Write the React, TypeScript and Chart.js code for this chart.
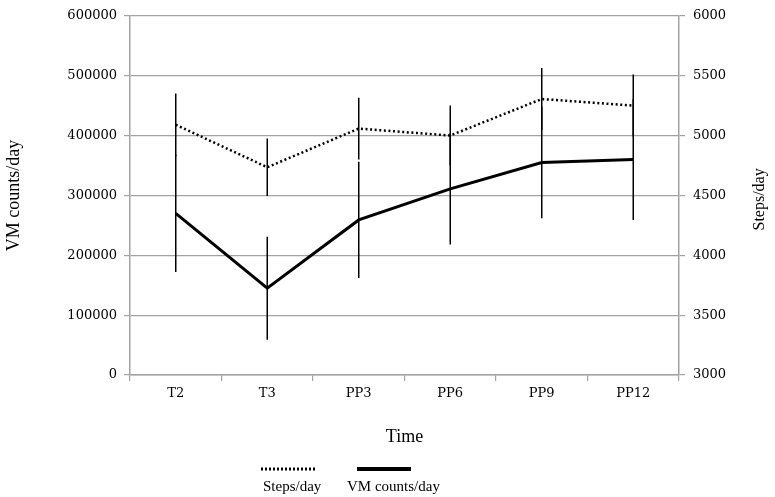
import React, { useEffect, useRef } from "react";
import { Chart, registerables } from "chart.js";

Chart.register(...registerables);

const categories = ["T2", "T3", "PP3", "PP6", "PP9", "PP12"];
const vmCounts = [270000, 145000, 259000, 311000, 355000, 360000];
const vmErr = [98000, 86000, 97000, 93000, 93000, 101000];
const steps = [5090, 4735, 5058, 5000, 5305, 5250];
const stepsErr = [262, 240, 258, 250, 258, 260];
const leftTicks = [0, 100000, 200000, 300000, 400000, 500000, 600000];
const rightTicks = [3000, 3500, 4000, 4500, 5000, 5500, 6000];
const rightTitle = "Steps/day";

const GRID = "#a3a3a3";
const SERIF = "'Liberation Serif', 'Times New Roman', serif";
const TICKFONT = "'DejaVu Serif', serif";

const errorBarPlugin = {
  id: "errorBars",
  afterDatasetsDraw(chart: any) {
    const ctx = chart.ctx;
    chart.data.datasets.forEach((ds: any) => {
      const yScale = chart.scales[ds.yAxisID];
      const xScale = chart.scales.x;
      ctx.save();
      ctx.strokeStyle = "#000";
      ctx.lineWidth = 1.5;
      ds.data.forEach((v: number, j: number) => {
        const e = ds.errors[j];
        const x = xScale.getPixelForValue(j);
        ctx.beginPath();
        ctx.moveTo(x, yScale.getPixelForValue(v + e));
        ctx.lineTo(x, yScale.getPixelForValue(v - e));
        ctx.stroke();
      });
      ctx.restore();
    });
  },
};

const rightTitlePlugin = {
  id: "rightTitle",
  afterDraw(chart: any) {
    const ctx = chart.ctx;
    const area = chart.chartArea;
    ctx.save();
    ctx.translate(760, (area.top + area.bottom) / 2 + 4);
    ctx.rotate(-Math.PI / 2);
    ctx.fillStyle = "#000";
    ctx.font = `16px ${SERIF}`;
    ctx.textAlign = "center";
    ctx.textBaseline = "middle";
    ctx.fillText(rightTitle, 0, 0);
    ctx.restore();
  },
};

const legendPlugin = {
  id: "customLegend",
  afterDraw(chart: any) {
    const ctx = chart.ctx;
    const items = chart.data.datasets.slice().sort((a: any, b: any) => a.legendOrder - b.legendOrder);
    const lineY = 469;
    const textY = 487;
    const positions = [261, 357];
    ctx.save();
    items.forEach((ds: any, k: number) => {
      const x = positions[k];
      ctx.beginPath();
      ctx.strokeStyle = "#000";
      if (ds.legendDotted) {
        ctx.lineWidth = 3;
        ctx.setLineDash([2, 2]);
      } else {
        ctx.lineWidth = 4;
        ctx.setLineDash([]);
      }
      ctx.moveTo(x, lineY);
      ctx.lineTo(x + 54, lineY);
      ctx.stroke();
      ctx.setLineDash([]);
      ctx.fillStyle = "#000";
      ctx.font = `15px ${SERIF}`;
      ctx.textBaseline = "middle";
      ctx.textAlign = "left";
      ctx.fillText(ds.label, x + (ds.legendDotted ? 2 : -10), textY);
    });
    ctx.restore();
  },
};

export default function App() {
  const ref = useRef<HTMLCanvasElement | null>(null);
  useEffect(() => {
    document.body.style.margin = "0";
    const chart = new Chart(ref.current as HTMLCanvasElement, {
      type: "line",
      data: {
        labels: categories,
        datasets: [
          {
            label: "VM counts/day",
            data: vmCounts,
            errors: vmErr,
            yAxisID: "y",
            borderColor: "#000",
            borderWidth: 3,
            pointRadius: 0,
            tension: 0,
            legendOrder: 1,
          } as any,
          {
            label: "Steps/day",
            data: steps,
            errors: stepsErr,
            yAxisID: "y1",
            borderColor: "#000",
            borderWidth: 2.5,
            borderDash: [2, 2.6],
            pointRadius: 0,
            tension: 0,
            legendOrder: 0,
            legendDotted: true,
          } as any,
        ],
      },
      options: {
        animation: false,
        responsive: false,
        maintainAspectRatio: false,
        layout: { autoPadding: false, padding: { top: 13, bottom: 42, left: 0, right: 0 } },
        plugins: { legend: { display: false }, tooltip: { enabled: false } },
        scales: {
          x: {
            offset: true,
            grid: { offset: true, drawOnChartArea: false, color: GRID, tickLength: 6, lineWidth: 1.2 },
            border: { color: GRID, width: 1.5 },
            ticks: { color: "#000", font: { family: TICKFONT, size: 13 }, padding: 5, maxRotation: 0 },
            title: { display: true, text: "Time", color: "#000", font: { family: SERIF, size: 18 }, padding: { top: 0, bottom: 7 } },
            afterFit(scale: any) { scale.height = 80; },
          },
          y: {
            position: "left",
            min: 0,
            max: 600000,
            afterBuildTicks(scale: any) { scale.ticks = leftTicks.map((v) => ({ value: v })); },
            grid: { color: GRID, tickLength: 6, lineWidth: 1.2 },
            border: { color: GRID, width: 1.5 },
            ticks: { color: "#000", font: { family: TICKFONT, size: 13 }, padding: 7, callback: (v: any) => String(v) },
            title: { display: true, text: "VM counts/day", color: "#000", font: { family: SERIF, size: 18 }, padding: { top: 3, bottom: 0 } },
            afterFit(scale: any) { scale.width = 130; },
          },
          y1: {
            position: "right",
            min: 3000,
            max: 6000,
            afterBuildTicks(scale: any) { scale.ticks = rightTicks.map((v) => ({ value: v })); },
            grid: { drawOnChartArea: false, color: GRID, tickLength: 6, lineWidth: 1.2 },
            border: { color: GRID, width: 1.5 },
            ticks: { color: "#000", font: { family: TICKFONT, size: 13 }, padding: 8, callback: (v: any) => String(v) },
            title: { display: false },
            afterFit(scale: any) { scale.width = 96; },
          },
        },
      } as any,
      plugins: [errorBarPlugin, legendPlugin, rightTitlePlugin],
    });
    return () => chart.destroy();
  }, []);
  return (
    <div style={{ position: "fixed", left: 0, top: 0, width: 775, height: 497, background: "#fff" }}>
      <canvas ref={ref} width={775} height={497} style={{ width: 775, height: 497, display: "block" }} />
    </div>
  );
}
